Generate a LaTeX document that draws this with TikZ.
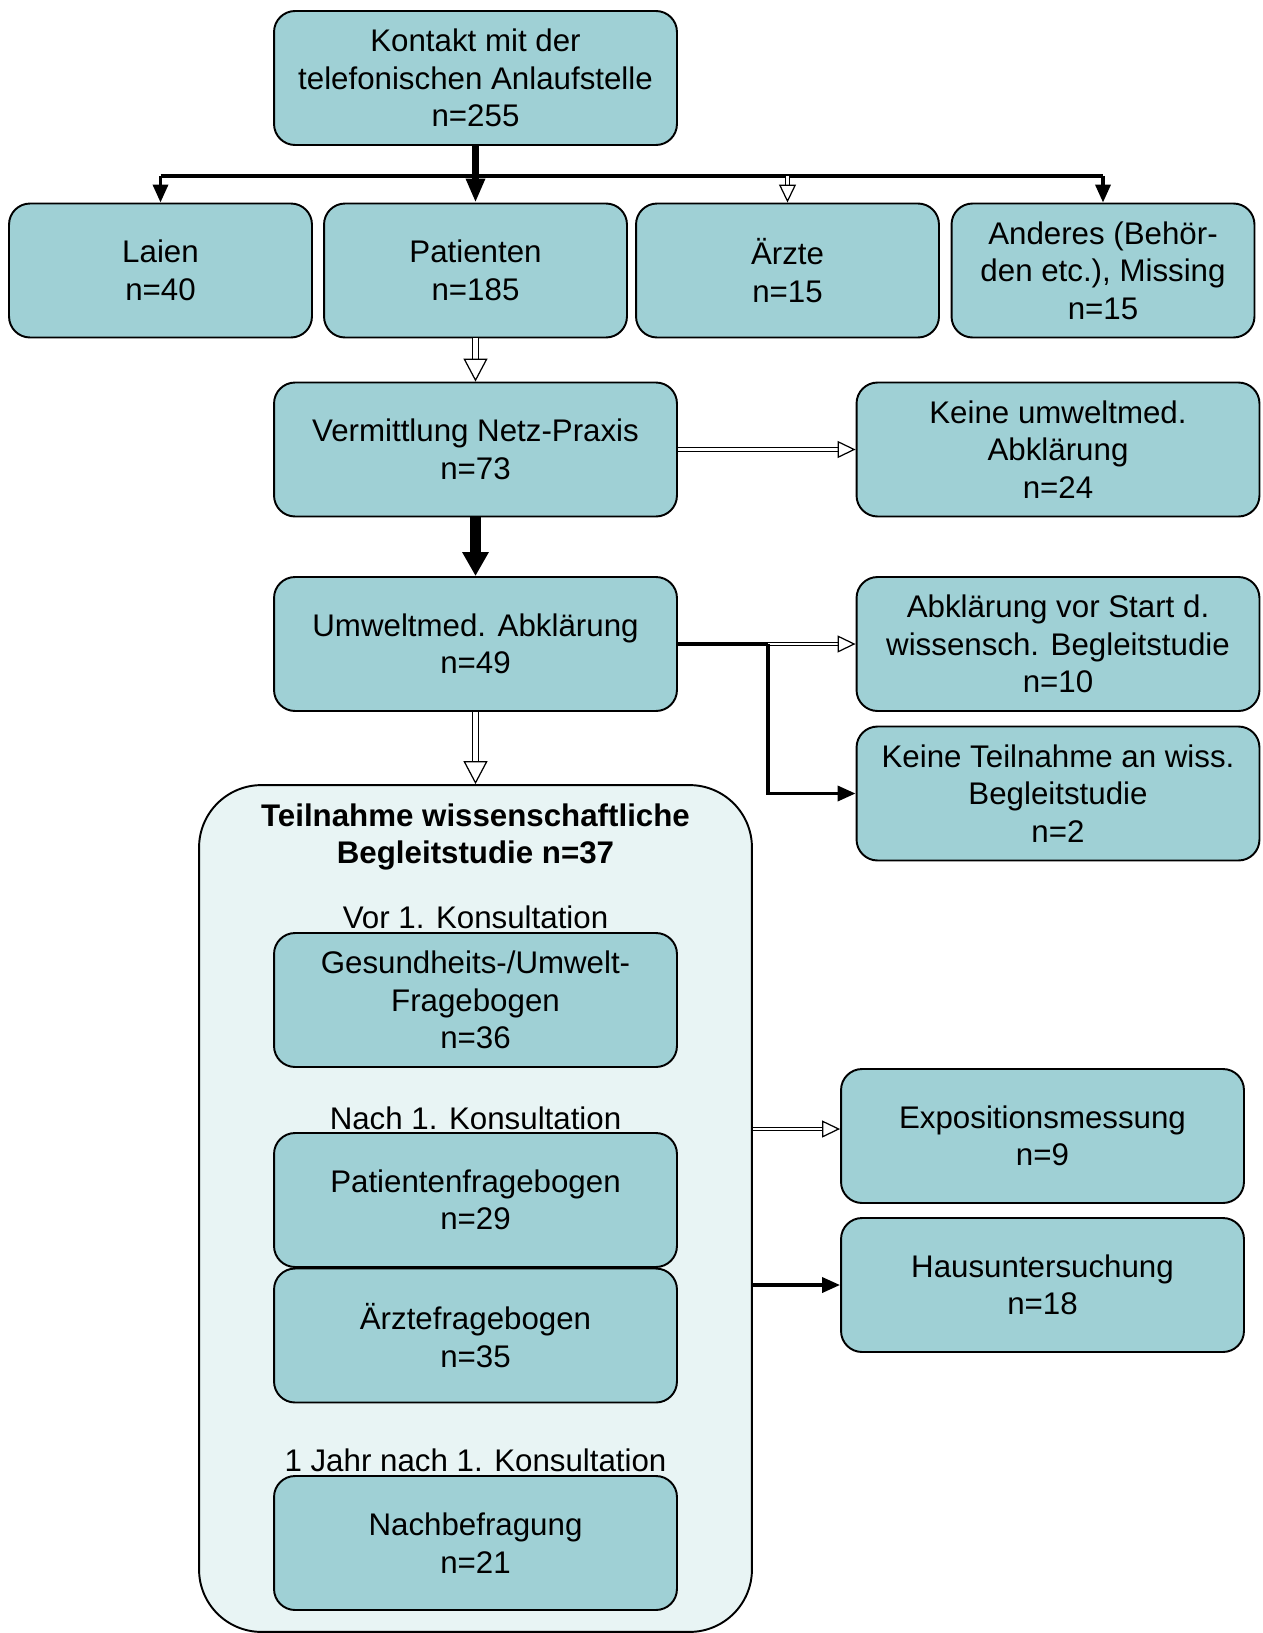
\documentclass[tikz,border=0pt]{standalone}
\usepackage{fontspec}
\setmainfont{Liberation Sans}
\usepackage{tikz}
\usetikzlibrary{arrows.meta, positioning, calc}
\usepackage{xcolor}
\definecolor{boxteal}{HTML}{9FD0D5}
\definecolor{studybg}{HTML}{E8F4F4}

\begin{document}
\begin{tikzpicture}[
                x=0.02cm, y=-0.02cm,
                font=\fontsize{17.8pt}{21.3pt}\selectfont,
                box/.style={draw=black, fill=boxteal, rounded corners=0.42cm, line width=1.1pt, minimum width=8.06cm, minimum height=2.68cm, inner sep=2pt, align=center},
                catbox/.style={box, minimum width=6.06cm},
                label/.style={inner sep=0pt, align=center},
                line/.style={line width=2.2pt, draw=black},
                arr/.style={-{Triangle[length=0.36cm, width=0.3cm]}, line width=2pt, draw=black},
                bigarr/.style={-{Triangle[length=0.48cm, width=0.36cm]}, line width=4.5pt, draw=black},
                hugearr/.style={-{Triangle[length=0.48cm, width=0.5cm]}, line width=5.7pt, draw=black},
                hollow/.style={double=white, double distance=1.4pt, line width=0.6pt, -{Triangle[open, length=0.36cm, width=0.34cm, line width=0.7pt]}},
                hollowbig/.style={double=white, double distance=3.3pt, line width=0.6pt, -{Triangle[open, length=0.46cm, width=0.48cm, line width=0.7pt]}}
            ]
                \useasboundingbox (0,0) rectangle (1262,1633);

                \node[box] (kontakt) at (475.5,78) {Kontakt mit der\\telefonischen Anlaufstelle\\n=255};

                \node[catbox] (laien) at (160.5,270.5) {Laien\\n=40};
                \node[catbox] (patienten) at (475.5,270.5) {Patienten\\n=185};
                \node[catbox] (aerzte) at (787.5,270.5) {Ärzte\\n=15};
                \node[catbox] (anderes) at (1103,270.5) {Anderes (Behör-\\den etc.), Missing\\n=15};

                \node[box] (vermittlung) at (475.5,449.5) {Vermittlung Netz-Praxis\\n=73};
                \node[box] (keineabkl) at (1058,449.5) {Keine umweltmed.\\Abklärung\\n=24};

                \node[box] (umweltmed) at (475.5,644) {Umweltmed. Abklärung\\n=49};
                \node[box] (vorstart) at (1058,644) {Abklärung vor Start d.\\wissensch. Begleitstudie\\n=10};
                \node[box] (keineteil) at (1058,793.5) {Keine Teilnahme an wiss.\\Begleitstudie\\n=2};

                % study frame
                \node[draw=black, fill=studybg, line width=1.1pt, rounded corners=1.25cm, minimum width=11.06cm, minimum height=16.94cm] (studie) at (475.5,1208.5) {};
                \node[label, font=\fontsize{17.8pt}{21.3pt}\selectfont\bfseries] (titel) at (475.5,837) {Teilnahme wissenschaftliche\\Begleitstudie n=37};

                \node[label] (vor) at (475.5,917) {Vor 1. Konsultation};
                \node[box] (gesundheit) at (475.5,1000) {Gesundheits-/Umwelt-\\Fragebogen\\n=36};
                \node[label] (nach) at (475.5,1118) {Nach 1. Konsultation};
                \node[box] (patfrage) at (475.5,1200) {Patientenfragebogen\\n=29};
                \node[box] (aerztefrage) at (475.5,1335.5) {Ärztefragebogen\\n=35};
                \node[label] (jahr) at (475.5,1460) {1 Jahr nach 1. Konsultation};
                \node[box] (nachbefr) at (475.5,1543) {Nachbefragung\\n=21};

                \node[box] (expo) at (1042.5,1136) {Expositionsmessung\\n=9};
                \node[box] (haus) at (1042.5,1285) {Hausuntersuchung\\n=18};

                \coordinate[below=0.6cm of kontakt.south] (split);
                \draw[bigarr, -] (kontakt) -- (split);
                \draw[line] (split -| laien) -- (split -| anderes);
                \draw[arr] (split -| laien) -- (laien);
                \draw[bigarr] (split) -- (patienten);
                \draw[hollow] (split -| aerzte) -- (aerzte);
                \draw[arr] (split -| anderes) -- (anderes);

                \draw[hollowbig] (patienten) -- (vermittlung);
                \draw[hollow] (vermittlung) -- (keineabkl);
                \draw[hugearr] (vermittlung) -- (umweltmed);

                \coordinate[right=1.8cm of umweltmed.east] (branch);
                \draw[line] (umweltmed) -- (branch);
                \draw[hollow] (branch) -- (vorstart);
                \draw[arr] (branch) |- (keineteil);

                \draw[hollowbig] (umweltmed) -- (studie);
                \draw[hollow] ([yshift=0.14cm]studie.east |- expo) -- ([yshift=0.14cm]expo.west);
                \draw[arr] (studie.east |- haus) -- (haus);
            \end{tikzpicture}
\end{document}
